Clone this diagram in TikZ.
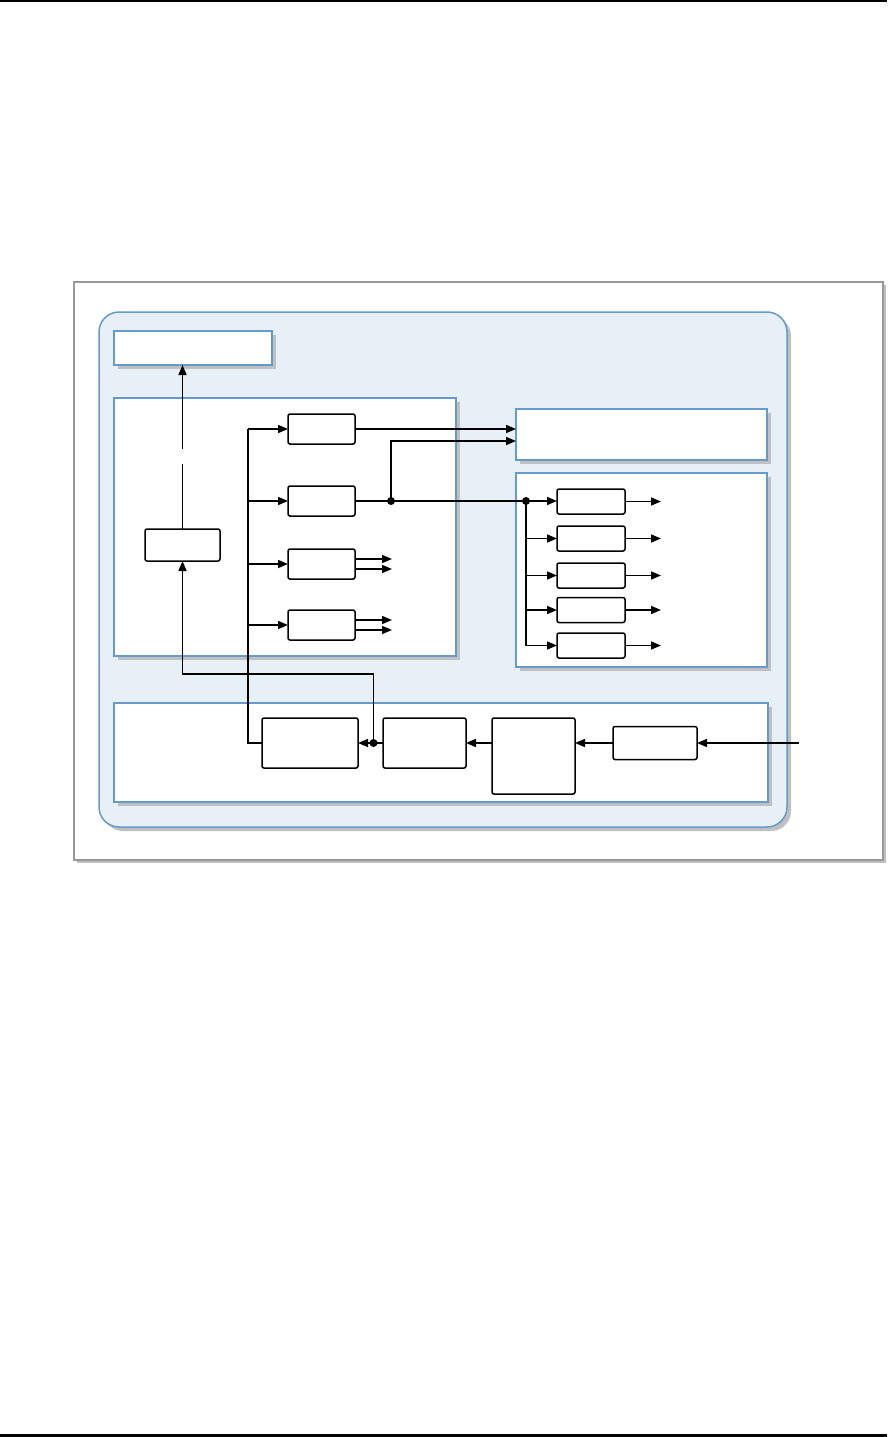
\documentclass[tikz,border=0pt]{standalone}
\usetikzlibrary{arrows.meta,shadows,calc}
\definecolor{bblue}{RGB}{102,153,204}
\definecolor{lblue}{RGB}{231,239,247}
\definecolor{shgray}{RGB}{192,192,192}
\definecolor{frgray}{RGB}{153,153,153}
\tikzset{
  panel/.style={draw=bblue,line width=1.5pt,fill=white,rectangle,inner sep=0,outer sep=0,
    general shadow={shadow xshift=4pt,shadow yshift=-4pt,fill=shgray}},
  blk/.style={draw=black,line width=1.5pt,fill=white,rectangle,rounded corners=2pt,inner sep=0,outer sep=0},
  arr/.style={line width=1.5pt,-{Triangle[length=10pt,width=8pt]}},
  ln/.style={line width=1.5pt},
  jdot/.style={circle,fill=black,inner sep=0,minimum size=8pt}
}
\begin{document}
\begin{tikzpicture}[x=1pt,y=-1pt]
\useasboundingbox (0,0) rectangle (887,1437);
\fill[white] (0,0) rectangle (887,1437);
% page rules
\draw[line width=1.6pt] (0,0.8) -- (887,0.8);
\draw[line width=3pt] (0,1435.5) -- (887,1435.5);
% outer frame
\fill[shgray] (77,285) rectangle (886,863);
\draw[frgray,line width=1.5pt,fill=white] (74,282) rectangle (883,860);
% rounded container
\fill[shgray,rounded corners=20pt] (103,316) rectangle (791,831);
\draw[bblue,line width=1.5pt,fill=lblue,rounded corners=20pt] (99,312) rectangle (787,827);
% panels
\node[panel,minimum width=158pt,minimum height=34pt] (tl) at (193,348) {};
\node[panel,minimum width=342pt,minimum height=258pt] (lp) at (285,527) {};
\node[panel,minimum width=251pt,minimum height=51pt] (tr) at (641.5,434.5) {};
\node[panel,minimum width=251pt,minimum height=194pt] (rp) at (641.5,570) {};
\node[panel,minimum width=654pt,minimum height=99pt] (bp) at (441,752.5) {};
% left group blocks
\node[blk,minimum width=67pt,minimum height=30pt] (b1) at (321.5,429) {};
\node[blk,minimum width=67pt,minimum height=30pt] (b2) at (321.5,501) {};
\node[blk,minimum width=67pt,minimum height=30pt] (b3) at (321.5,564) {};
\node[blk,minimum width=67pt,minimum height=30pt] (b4) at (321.5,625) {};
\node[blk,minimum width=75pt,minimum height=32pt] (mid) at (182.5,545) {};
% right group blocks
\node[blk,minimum width=68pt,minimum height=25pt] (r1) at (591,501.5) {};
\node[blk,minimum width=68pt,minimum height=25pt] (r2) at (591,538.5) {};
\node[blk,minimum width=68pt,minimum height=25pt] (r3) at (591,575.5) {};
\node[blk,minimum width=68pt,minimum height=25pt] (r4) at (591,610) {};
\node[blk,minimum width=68pt,minimum height=25pt] (r5) at (591,645.5) {};
% bottom blocks
\node[blk,minimum width=96pt,minimum height=50pt] (A) at (310,743) {};
\node[blk,minimum width=83pt,minimum height=50pt] (B) at (424.5,743) {};
\node[blk,minimum width=83pt,minimum height=76pt] (C) at (533.5,756) {};
\node[blk,minimum width=84pt,minimum height=33pt] (D) at (655,743) {};
% coordinates
\coordinate (bus) at (248,743);
\coordinate (fb) at (373.5,743);
\coordinate (fbh) at (0,674);
\coordinate (g1) at (182.5,464);
\coordinate (g2) at (182.5,449);
\coordinate (d1) at (391,501);
\coordinate (d2) at (526,501);
\coordinate (t2) at (0,441);
\coordinate (in) at (799,743);
% bottom chain
\draw[arr] (in) -- (D.east);
\draw[arr] (D.west) -- (C.east |- D.west);
\draw[arr] (C.west |- B.east) -- (B.east);
\draw[arr] (B.west) -- (A.east);
% bus
\draw[ln] (A.west) -- (bus) -- (bus |- b1.west);
\draw[arr] (bus |- b1.west) -- (b1.west);
\draw[arr] (bus |- b2.west) -- (b2.west);
\draw[arr] (bus |- b3.west) -- (b3.west);
\draw[arr] (bus |- b4.west) -- (b4.west);
% feedback
\draw[arr] (fb) |- (mid.south |- fbh) -- (mid.south);
\node[jdot] at (fb) {};
% mid up to tl
\draw[ln] (mid.north) -- (g1);
\draw[arr] (g2) -- (g2 |- tl.south);
% b1, b2 outputs
\draw[arr] (b1.east) -- (b1.east -| tr.west);
\draw[arr] (b2.east) -- (r1.west |- b2.east);
\draw[arr] (d1) |- (tr.west |- t2);
\node[jdot] at (d1) {};
% right bus
\draw[ln] (d2) -- (d2 |- r5.west);
\draw[arr] (d2 |- r2.west) -- (r2.west);
\draw[arr] (d2 |- r3.west) -- (r3.west);
\draw[arr] (d2 |- r4.west) -- (r4.west);
\draw[arr] (d2 |- r5.west) -- (r5.west);
\node[jdot] at (d2) {};
% right outputs
\foreach \r in {r1,r2,r3,r4,r5}{
  \draw[arr] (\r.east) -- ++(36,0);
}
% b3, b4 double outputs
\draw[arr] ([yshift=5pt]b3.east) -- ++(37,0);
\draw[arr] ([yshift=-5pt]b3.east) -- ++(37,0);
\draw[arr] ([yshift=5pt]b4.east) -- ++(37,0);
\draw[arr] ([yshift=-5pt]b4.east) -- ++(37,0);
\end{tikzpicture}
\end{document}
